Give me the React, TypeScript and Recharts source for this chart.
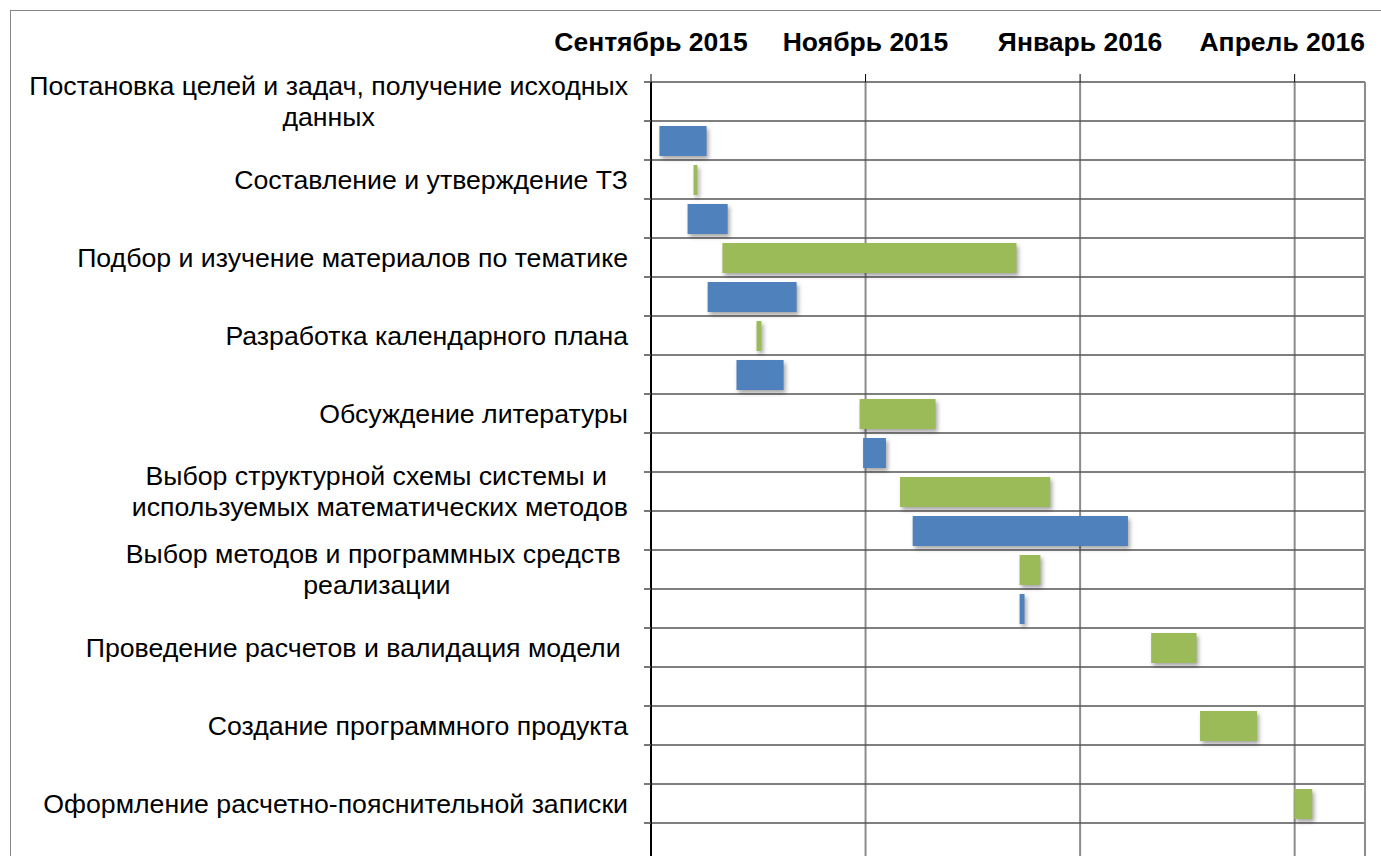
import React from "react";
import { BarChart, Bar, XAxis, YAxis, CartesianGrid, ReferenceLine } from "recharts";

// days counted from 1 Sep 2015
const taskLabels: string[][] = [
  ["Постановка целей и задач, получение исходных", "данных"],
  ["Составление и утверждение ТЗ"],
  ["Подбор и изучение материалов по тематике"],
  ["Разработка календарного плана"],
  ["Обсуждение литературы"],
  ["Выбор структурной схемы системы и ", "используемых математических методов"],
  ["Выбор методов и программных средств ", "реализации"],
  ["Проведение расчетов и валидация модели "],
  ["Создание программного продукта"],
  ["Оформление расчетно-пояснительной записки"],
];

const greenStart = [null, 12.1, 20.3, 30.0, 59.3, 70.8, 104.8, 142.2, 156.1, 182.9];
const greenEnd = [null, 13.2, 103.9, 31.4, 80.9, 113.5, 110.7, 155.1, 172.3, 188.0];
const blueStart = [2.4, 10.4, 16.1, 24.3, 60.3, 74.4, 104.8, null, null, null];
const blueEnd = [15.8, 21.8, 41.4, 37.7, 66.8, 135.6, 106.2, null, null, null];

const xTicks = [0, 61, 122, 183];
const xTickLabels = ["Сентябрь 2015", "Ноябрь 2015", "Январь 2016", "Апрель 2016"];
const X_MAX = 203;

const BLUE = "#4F81BD";
const GREEN = "#9BBB59";
const FONT = '"Liberation Sans", Arial, sans-serif';
const LABEL_SIZE = 26.7;
const MONTH_SIZE = 26.5;

const W = 1381;
const H = 862;
const TOP = 82;
const ROWS = taskLabels.length * 2;
const ROW_H = (H - TOP) / ROWS;

const rows = taskLabels.flatMap((label, k) => [
  {
    row: `g${k}`,
    label,
    span: greenStart[k] == null ? null : [greenStart[k], greenEnd[k]],
    color: GREEN,
  },
  {
    row: `b${k}`,
    label: null,
    span: blueStart[k] == null ? null : [blueStart[k], blueEnd[k]],
    color: BLUE,
  },
]);

let measureCtx: CanvasRenderingContext2D | null = null;
function textWidth(s: string, font: string) {
  if (!measureCtx) measureCtx = document.createElement("canvas").getContext("2d");
  if (!measureCtx) return s.length * 12;
  measureCtx.font = font;
  return measureCtx.measureText(s).width;
}

function GanttBar(props: any) {
  const { x, y, width, height, payload } = props;
  if (!payload || !payload.span || !width) return <g />;
  return (
    <rect
      x={Math.min(x, x + width)}
      y={y}
      width={Math.abs(width)}
      height={height}
      fill={payload.color}
      style={{ filter: "drop-shadow(2px 3px 2px rgba(0,0,0,0.35))" }}
    />
  );
}

function TaskTick(props: any) {
  const { x, y, index } = props;
  const row = rows[index];
  const lines: string[] = row && row.label ? row.label : [];
  const widths = lines.map((l) => textWidth(l, `${LABEL_SIZE}px ${FONT}`));
  const maxW = Math.max(0, ...widths);
  const right = x - 23;
  const cx = right - maxW / 2;
  const lineGap = 31;
  const first = y - ((lines.length - 1) * lineGap) / 2;
  return (
    <g>
      <line x1={x - 7} x2={x} y1={y - ROW_H / 2} y2={y - ROW_H / 2} stroke="#555" strokeWidth={1.6} />
      {index === ROWS - 1 && (
        <line x1={x - 7} x2={x} y1={y + ROW_H / 2} y2={y + ROW_H / 2} stroke="#555" strokeWidth={1.6} />
      )}
      {lines.map((l, i) => (
        <text
          key={i}
          x={cx}
          y={first + i * lineGap}
          textAnchor="middle"
          dominantBaseline="central"
          fontFamily={FONT}
          fontSize={LABEL_SIZE}
          fill="#000"
          style={{ whiteSpace: "pre" }}
        >
          {l}
        </text>
      ))}
    </g>
  );
}

function MonthTick(props: any) {
  const { x, y, payload } = props;
  const label = xTickLabels[xTicks.indexOf(payload.value)];
  const w = textWidth(label, `bold ${MONTH_SIZE}px ${FONT}`);
  const cx = Math.min(x, W - 16 - w / 2);
  return (
    <text x={cx} y={y} textAnchor="middle" fontFamily={FONT} fontWeight="bold" fontSize={MONTH_SIZE} fill="#000">
      {label}
    </text>
  );
}

export default function App() {
  return (
    <div
      style={{
        position: "absolute",
        left: 0,
        top: 0,
        width: W,
        height: 856,
        overflow: "hidden",
        background: "#fff",
      }}
    >
      <div
        style={{
          position: "absolute",
          left: 10,
          top: 10,
          width: 1500,
          height: 1000,
          borderTop: "1px solid #868686",
          borderLeft: "1px solid #868686",
        }}
      />
      <div style={{ position: "absolute", left: 0, top: 0 }}>
        <BarChart
          width={W}
          height={H}
          data={rows}
          layout="vertical"
          margin={{ top: 0, right: 16, bottom: 0, left: 0 }}
        >
          <CartesianGrid horizontal={false} vertical stroke="#8c8c8c" strokeWidth={2} />
          <CartesianGrid
            vertical={false}
            horizontal
            stroke="#555"
            strokeWidth={1.6}
            horizontalCoordinatesGenerator={({ offset }: any) =>
              Array.from({ length: ROWS + 1 }, (_, i) => offset.top + i * (offset.height / ROWS))
            }
          />
          <ReferenceLine x={X_MAX} stroke="#8c8c8c" strokeWidth={2} />
          <XAxis
            type="number"
            orientation="top"
            domain={[0, X_MAX]}
            ticks={xTicks}
            height={TOP}
            axisLine={false}
            tickSize={8}
            tickMargin={23}
            tickLine={{ stroke: "#000", strokeWidth: 1 }}
            tick={<MonthTick />}
            interval={0}
          />
          <YAxis
            type="category"
            dataKey="row"
            width={651}
            interval={0}
            tickSize={0}
            tickMargin={0}
            tickLine={false}
            axisLine={{ stroke: "#000", strokeWidth: 2 }}
            tick={<TaskTick />}
          />
          <Bar dataKey="span" barSize={30} isAnimationActive={false} shape={<GanttBar />} />
        </BarChart>
      </div>
    </div>
  );
}
